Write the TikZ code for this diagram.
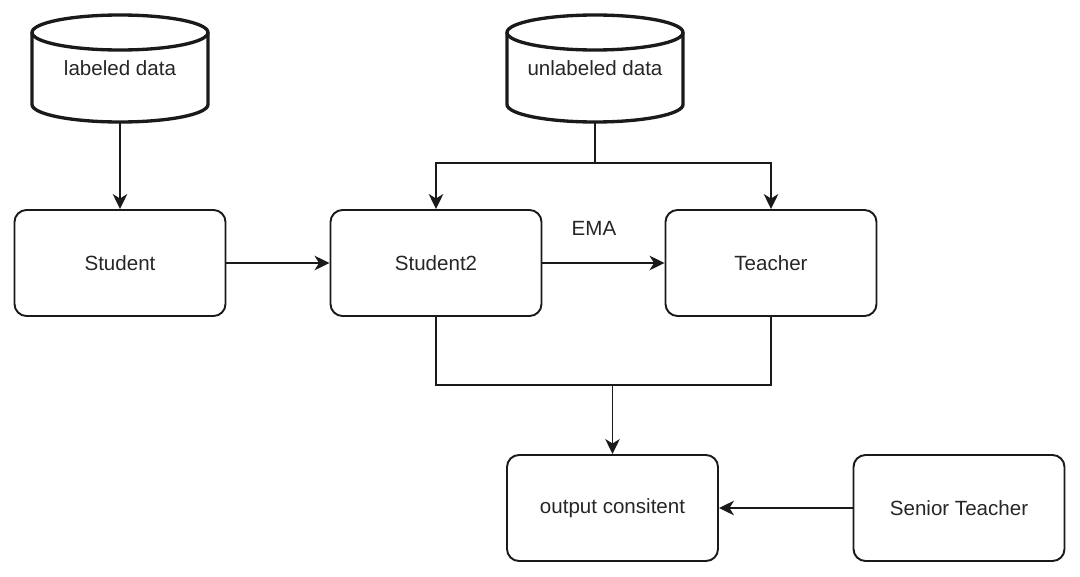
\documentclass[tikz,border=0pt]{standalone}
\usepackage{fontspec}
\setmainfont{Liberation Sans}
\usetikzlibrary{positioning,arrows.meta}
\definecolor{linecol}{HTML}{1A1A1A}
\definecolor{txtcol}{HTML}{262626}
\newcommand{\dbcyl}[1]{% #1 node name; outline of a data cylinder round it
  \draw[cylline] ([yshift=-0.35cm]#1.north west) -- ([yshift=0.35cm]#1.south west)
    arc[start angle=180, end angle=360, x radius=1.76cm, y radius=0.35cm]
    -- ([yshift=-0.35cm]#1.north east);
  \draw[cylline] ([yshift=-0.35cm]#1.north) ellipse[x radius=1.76cm, y radius=0.35cm];
}
\tikzset{
  datacyl/.style={inner sep=0pt, outer sep=0pt, minimum width=3.52cm,
    minimum height=2.14cm, text=txtcol},
  cylline/.style={draw=linecol, line width=1.9pt},
  netbox/.style={draw=linecol, rounded corners=0.24cm, line width=1.1pt,
    minimum width=4.22cm, minimum height=2.12cm, text=txtcol},
  flow/.style={draw=linecol, line width=1.1pt},
  arr/.style={flow, -{Stealth[length=0.3cm, width=0.29cm, inset=0.09cm]}}
}

\begin{document}
\begin{tikzpicture}[every node/.style={font=\fontsize{11.7pt}{13pt}\selectfont}]
  \useasboundingbox (0,0) rectangle (21.6,-11.52);
  % data sources
  \node[datacyl] (lab) at (2.4,-1.37) {labeled data};
  \node[datacyl] (unlab) at (11.9,-1.37) {unlabeled data};
  \dbcyl{lab}
  \dbcyl{unlab}
  % networks
  \node[netbox] (stu) at (2.4,-5.26) {Student};
  \node[netbox] (stu2) at (8.72,-5.26) {Student2};
  \node[netbox] (tea) at (15.42,-5.26) {Teacher};
  \node[netbox] (out) at (12.25,-10.16) {output consitent};
  \node[netbox] (sen) at (19.18,-10.16) {Senior Teacher};
  \node[text=txtcol] (ema) at (11.88,-4.56) {EMA};
  % connectors
  \coordinate (split) at (11.9,-3.26);
  \coordinate (join) at (12.25,-7.7);
  \draw[arr] (lab.south) -- (stu.north);
  \draw[flow] (unlab.south) -- (split);
  \draw[arr] (split) -| (stu2.north);
  \draw[arr] (split) -| (tea.north);
  \draw[arr] (stu) -- (stu2);
  \draw[arr] (stu2) -- (tea);
  \draw[flow] (stu2.south) |- (join) -| (tea.south);
  \draw[arr] (join) -- (out.north);
  \draw[arr] (sen) -- (out);
\end{tikzpicture}
\end{document}
